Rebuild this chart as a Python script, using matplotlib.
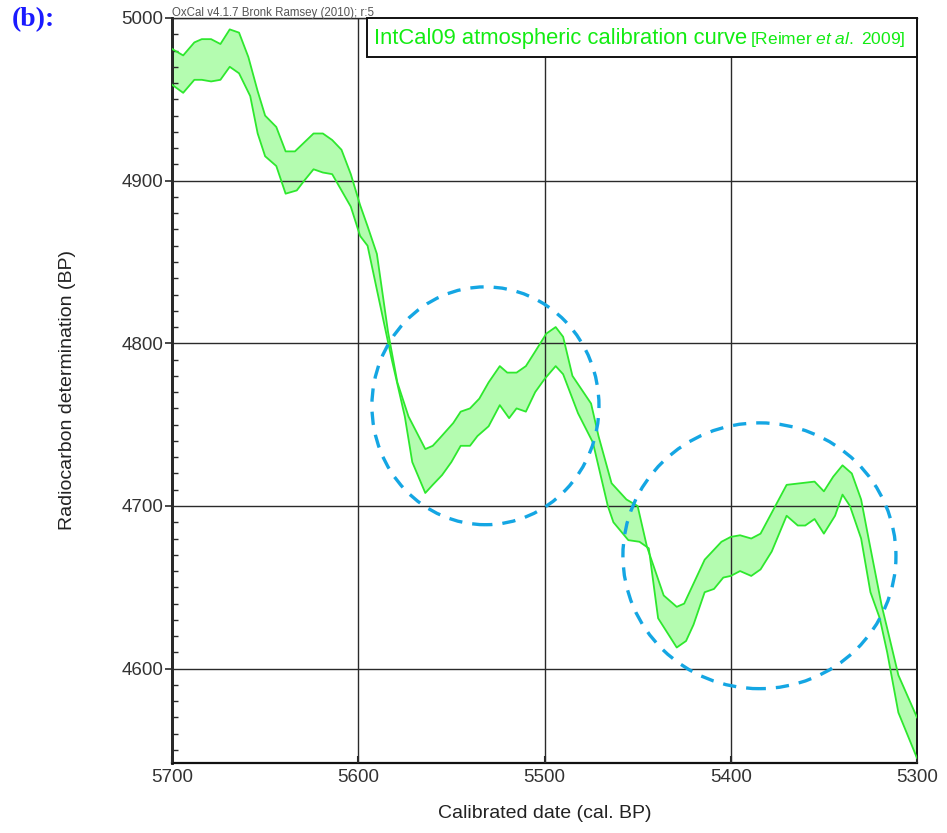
#!/usr/bin/env python3
"""IntCal09 calibration band between 5700 and 5300 cal. BP with two marked wiggles."""

import matplotlib
import numpy as np

matplotlib.use("Agg")
import matplotlib.pyplot as plt
from matplotlib.patches import Ellipse, Rectangle

plt.rcParams["font.family"] = ["Liberation Sans", "DejaVu Sans"]
plt.rcParams["mathtext.fontset"] = "custom"
plt.rcParams["mathtext.rm"] = "Liberation Sans"
plt.rcParams["mathtext.it"] = "Liberation Sans:italic"

# upper edge of the 1-sigma band (cal. BP, 14C BP)
UPPER_CAL = [
    5700, 5694, 5688, 5684, 5679, 5674, 5669, 5664, 5659, 5654, 5650, 5644,
    5639, 5634, 5624, 5619, 5614, 5609, 5604, 5599, 5595, 5590, 5584, 5579,
    5573, 5564, 5560, 5556, 5549, 5545, 5540, 5535, 5530, 5524, 5520, 5515,
    5510, 5505, 5499, 5494, 5490, 5485, 5475, 5471, 5464, 5456, 5450, 5445,
    5436, 5429, 5425, 5414, 5405, 5400, 5395, 5389, 5384, 5377, 5370, 5355,
    5350, 5345, 5340, 5335, 5330, 5326, 5319, 5315, 5310, 5300,
]
UPPER_C14 = [
    4981, 4977, 4985, 4987, 4987, 4984, 4993, 4991, 4976, 4955, 4940, 4933,
    4918, 4918, 4929, 4929, 4925, 4919, 4904, 4885, 4872, 4855, 4807, 4776,
    4755, 4735, 4737, 4742, 4751, 4758, 4760, 4766, 4776, 4786, 4782, 4782,
    4786, 4795, 4806, 4810, 4804, 4780, 4763, 4743, 4714, 4704, 4700, 4675,
    4645, 4638, 4640, 4667, 4678, 4681, 4682, 4680, 4683, 4698, 4713, 4715,
    4709, 4718, 4725, 4720, 4704, 4680, 4639, 4620, 4596, 4570,
]

# lower edge of the band
LOWER_CAL = [
    5700, 5694, 5688, 5684, 5679, 5674, 5669, 5664, 5658, 5654, 5650, 5644,
    5639, 5633, 5629, 5624, 5619, 5614, 5609, 5604, 5599, 5595, 5590, 5582,
    5575, 5571, 5564, 5560, 5555, 5550, 5545, 5540, 5536, 5530, 5524, 5519,
    5515, 5510, 5505, 5500, 5494, 5490, 5482, 5474, 5466, 5463, 5455, 5449,
    5444, 5439, 5429, 5424, 5420, 5414, 5409, 5404, 5400, 5395, 5389, 5384,
    5378, 5370, 5364, 5360, 5355, 5350, 5344, 5340, 5336, 5330, 5325, 5320,
    5316, 5310, 5300,
]
LOWER_C14 = [
    4959, 4954, 4962, 4962, 4961, 4962, 4970, 4966, 4952, 4929, 4915, 4909,
    4892, 4894, 4900, 4907, 4905, 4904, 4894, 4884, 4866, 4860, 4833, 4790,
    4755, 4727, 4708, 4713, 4719, 4727, 4737, 4737, 4743, 4749, 4762, 4754,
    4760, 4758, 4770, 4778, 4786, 4781, 4757, 4739, 4700, 4690, 4679, 4678,
    4674, 4631, 4613, 4617, 4627, 4647, 4649, 4656, 4657, 4660, 4657, 4661,
    4672, 4694, 4688, 4688, 4692, 4683, 4694, 4707, 4700, 4680, 4647, 4631,
    4610, 4573, 4545,
]

X_TICKS = [5700, 5600, 5500, 5400, 5300]
Y_TICKS = [4600, 4700, 4800, 4900, 5000]

BAND_FILL = "#b4fcb0"
BAND_EDGE = "#2ee82e"
TEXT_GREEN = "#12ec12"
RING_BLUE = "#14a6e3"
AXIS_GREY = "#2a2a2a"

fig = plt.figure(figsize=(9.47, 8.33), dpi=100)
ax = fig.add_axes([172 / 947, 70 / 833, 745 / 947, 745 / 833])

up_x = np.asarray(UPPER_CAL, dtype=float)
up_y = np.asarray(UPPER_C14, dtype=float)
lo_x = np.asarray(LOWER_CAL, dtype=float)
lo_y = np.asarray(LOWER_C14, dtype=float)

ax.fill(np.concatenate((up_x, lo_x[::-1])), np.concatenate((up_y, lo_y[::-1])),
        facecolor=BAND_FILL, edgecolor="none", zorder=1)
ax.plot(up_x, up_y, color=BAND_EDGE, lw=1.3, zorder=3)
ax.plot(lo_x, lo_y, color=BAND_EDGE, lw=1.3, zorder=3)

# dashed rings around the two plateaus
for cx, cy, w, h in ((5531.7, 4761.6, 121.9, 146.2), (5384.6, 4669.4, 146.6, 163.4)):
    ax.add_patch(Ellipse((cx, cy), w, h, fill=False, edgecolor=RING_BLUE,
                         lw=2.4, linestyle=(0, (4, 3)), zorder=4))

ax.set_xlim(5700, 5300)
ax.set_ylim(4542, 5000)
ax.set_xticks(X_TICKS)
ax.set_yticks(Y_TICKS)
ax.set_yticks(np.arange(4550, 5000, 10), minor=True)
ax.set_axisbelow(False)
ax.grid(True, which="major", color=AXIS_GREY, lw=1.0)

ax.tick_params(axis="x", which="major", direction="in", length=5, width=1.5,
               labelsize=13.5, labelcolor="#333333", pad=4, color=AXIS_GREY)
ax.tick_params(axis="y", which="major", direction="out", length=5, width=1.2,
               labelsize=13.5, labelcolor="#333333", pad=1, color=AXIS_GREY)
ax.tick_params(axis="y", which="minor", direction="in", length=4, width=1.0,
               color=AXIS_GREY)

ax.spines["left"].set_linewidth(2.0)
ax.spines["bottom"].set_linewidth(1.6)
ax.spines["right"].set_linewidth(1.4)
ax.spines["top"].set_linewidth(1.0)
for side in ax.spines.values():
    side.set_color("#111111")

ax.set_xlabel("Calibrated date (cal. BP)", fontsize=14, color="#222222", va="center")
ax.set_ylabel("Radiocarbon determination (BP)", fontsize=14, color="#222222", va="center")
ax.xaxis.set_label_coords(0.5, (763 - 814) / 745)
ax.yaxis.set_label_coords((68 - 172) / 745, 0.5)

# program stamp above the frame
ax.annotate("OxCal v4.1.7 Bronk Ramsey (2010); r:5", xy=(0, 1), xycoords="axes fraction",
            xytext=(0, 1.5), textcoords="offset points", ha="left", va="baseline",
            fontsize=8.3, color="#555555")

# curve key box in the top right corner
box_x0 = (367 - 172) / 745
box_y0 = (763 - 57) / 745
ax.add_patch(Rectangle((box_x0, box_y0), 1 - box_x0, 1 - box_y0, transform=ax.transAxes,
                       facecolor="white", edgecolor="#111111", lw=1.4, zorder=5,
                       clip_on=False))
ax.text((374 - 172) / 745, (763 - 44) / 745, "IntCal09 atmospheric calibration curve",
        transform=ax.transAxes, ha="left", va="baseline", fontsize=15.8,
        color=TEXT_GREEN, zorder=6)
ax.text((750 - 172) / 745, (763 - 44) / 745, r"[Reimer $\mathit{et\ al.}$ 2009]",
        transform=ax.transAxes, ha="left", va="baseline", fontsize=12.5,
        color=TEXT_GREEN, zorder=6)

fig.text(12 / 947, 1 - 7 / 833, "(b):", ha="left", va="top", fontsize=20,
         fontweight="bold", color="#1a1aff", family=["Liberation Serif", "DejaVu Serif"])

fig.savefig("out.png", dpi=100)
plt.close(fig)
